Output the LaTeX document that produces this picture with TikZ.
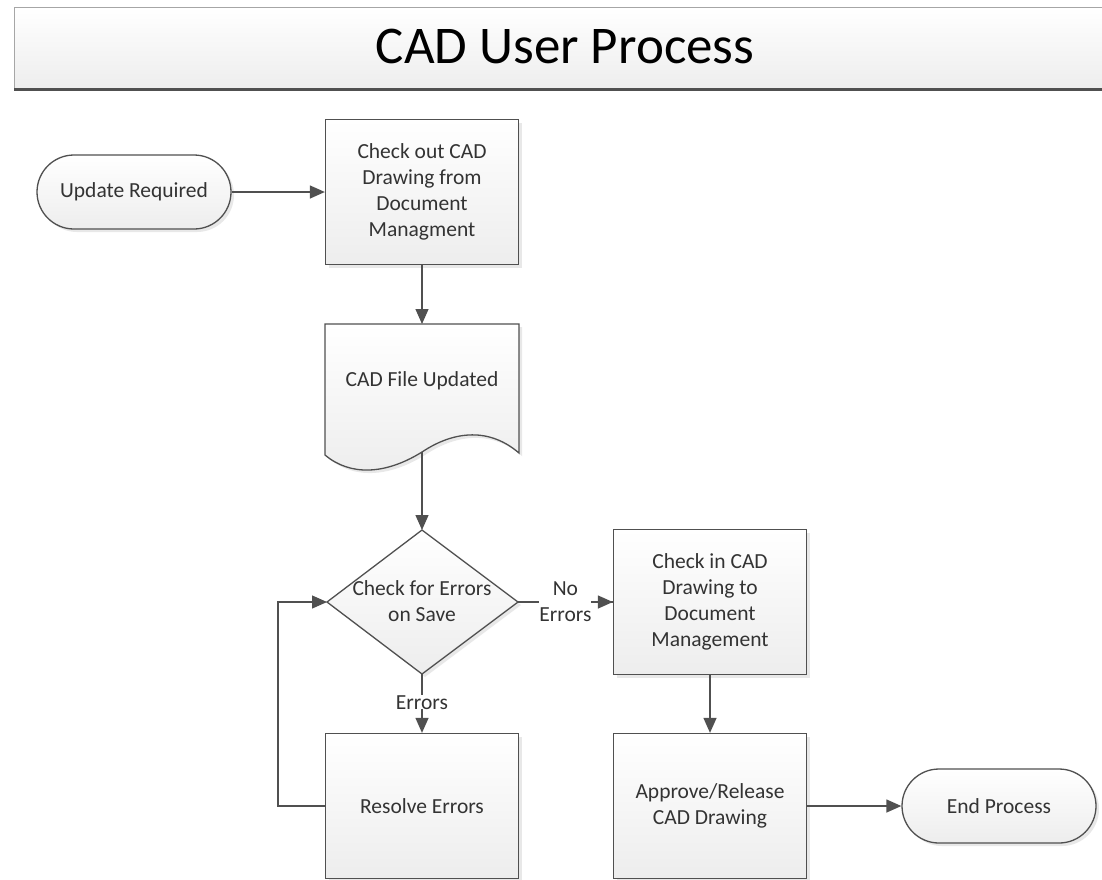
\documentclass[tikz,border=0pt]{standalone}
\usepackage{fontspec}
\setmainfont{Carlito}
\usetikzlibrary{arrows.meta,shapes.misc,shapes.geometric,shadows}
\definecolor{edge}{HTML}{505050}
\definecolor{txt}{HTML}{333333}
\definecolor{lightbot}{HTML}{EDEDED}
\tikzset{
  shapebase/.style={draw=edge, line width=1.3pt, top color=white, bottom color=lightbot,
    text=txt, font=\fontsize{21.5}{26}\selectfont, align=center,
    drop shadow={opacity=0.18, shadow xshift=3pt, shadow yshift=-3pt}},
  shapefill/.style={draw=edge, line width=1.3pt, top color=white, bottom color=lightbot,
    drop shadow={opacity=0.18, shadow xshift=3pt, shadow yshift=-3pt}},
  procbox/.style={shapebase, rectangle, minimum width=193pt, minimum height=145pt, inner sep=0pt},
  termnode/.style={shapebase, rounded rectangle, minimum width=194pt, minimum height=74pt, inner sep=0pt},
  textonly/.style={text=txt, font=\fontsize{21.5}{26}\selectfont, align=center, inner sep=1pt},
  flow/.style={draw=edge, line width=1.3pt, -{Triangle[length=15pt,width=13pt]}},
  plainline/.style={draw=edge, line width=1.3pt},
  lbl/.style={textonly, fill=white}
}
\begin{document}
\begin{tikzpicture}[x=1pt,y=-1pt]
\useasboundingbox (0,0) rectangle (1102,879);
% title bar
\shade[top color=white, bottom color=lightbot] (14,7) rectangle (1106,90);
\draw[gray!70, line width=1pt] (1106,7) -- (14,7) -- (14,90);
\draw[edge, line width=3pt] (14,89) -- (1106,89);
\node[text=black, font=\fontsize{53}{60}\selectfont] (title) at (565,46) {CAD User Process};

% nodes
\node[termnode] (start) at (134,192) {Update Required};
\node[procbox] (checkout) at (422,192) {Check out CAD\\Drawing from\\Document\\Managment};

% document shape
\coordinate (doctop) at (422,324);
\coordinate (docbot) at (422,452);
\draw[shapefill]
  (325,324) -- (519,324) -- (519,453)
  .. controls (490,428) and (455,430) .. (422,452)
  .. controls (385,475) and (350,476) .. (325,455) -- cycle;
\node[textonly] (doc) at (422,381) {CAD File Updated};

% decision diamond
\coordinate (decN) at (422,530);
\coordinate (decS) at (422,674);
\coordinate (decE) at (518,602);
\coordinate (decW) at (327,602);
\draw[shapefill] (decN) -- (decE) -- (decS) -- (decW) -- cycle;
\node[textonly] (dec) at (422,601) {Check for Errors\\on Save};

\node[procbox] (checkin) at (710,602) {Check in CAD\\Drawing to\\Document\\Management};
\node[procbox] (resolve) at (422,806) {Resolve Errors};
\node[procbox] (approve) at (710,806) {Approve/Release\\CAD Drawing};
\node[termnode] (endp) at (999,806) {End Process};

% connectors
\draw[flow] (start.east) -- (checkout.west);
\draw[flow] (checkout.south) -- (doctop);
\draw[flow] (docbot) -- (decN);
\draw[plainline] (decE) -- (checkin.west) node[lbl, pos=0.5, inner sep=0pt] (noerr) {No\\Errors};
\draw[flow] (noerr.east) -- (checkin.west);
\draw[flow] (decS) -- (resolve.north) node[lbl, pos=0.48, inner sep=0pt] (err) {Errors};
\coordinate (loopb) at (278,806);
\coordinate (loopt) at (278,602);
\draw[flow] (resolve.west) -- (loopb) -- (loopt) -- (decW);
\draw[flow] (checkin.south) -- (approve.north);
\draw[flow] (approve.east) -- (endp.west);
\end{tikzpicture}
\end{document}
